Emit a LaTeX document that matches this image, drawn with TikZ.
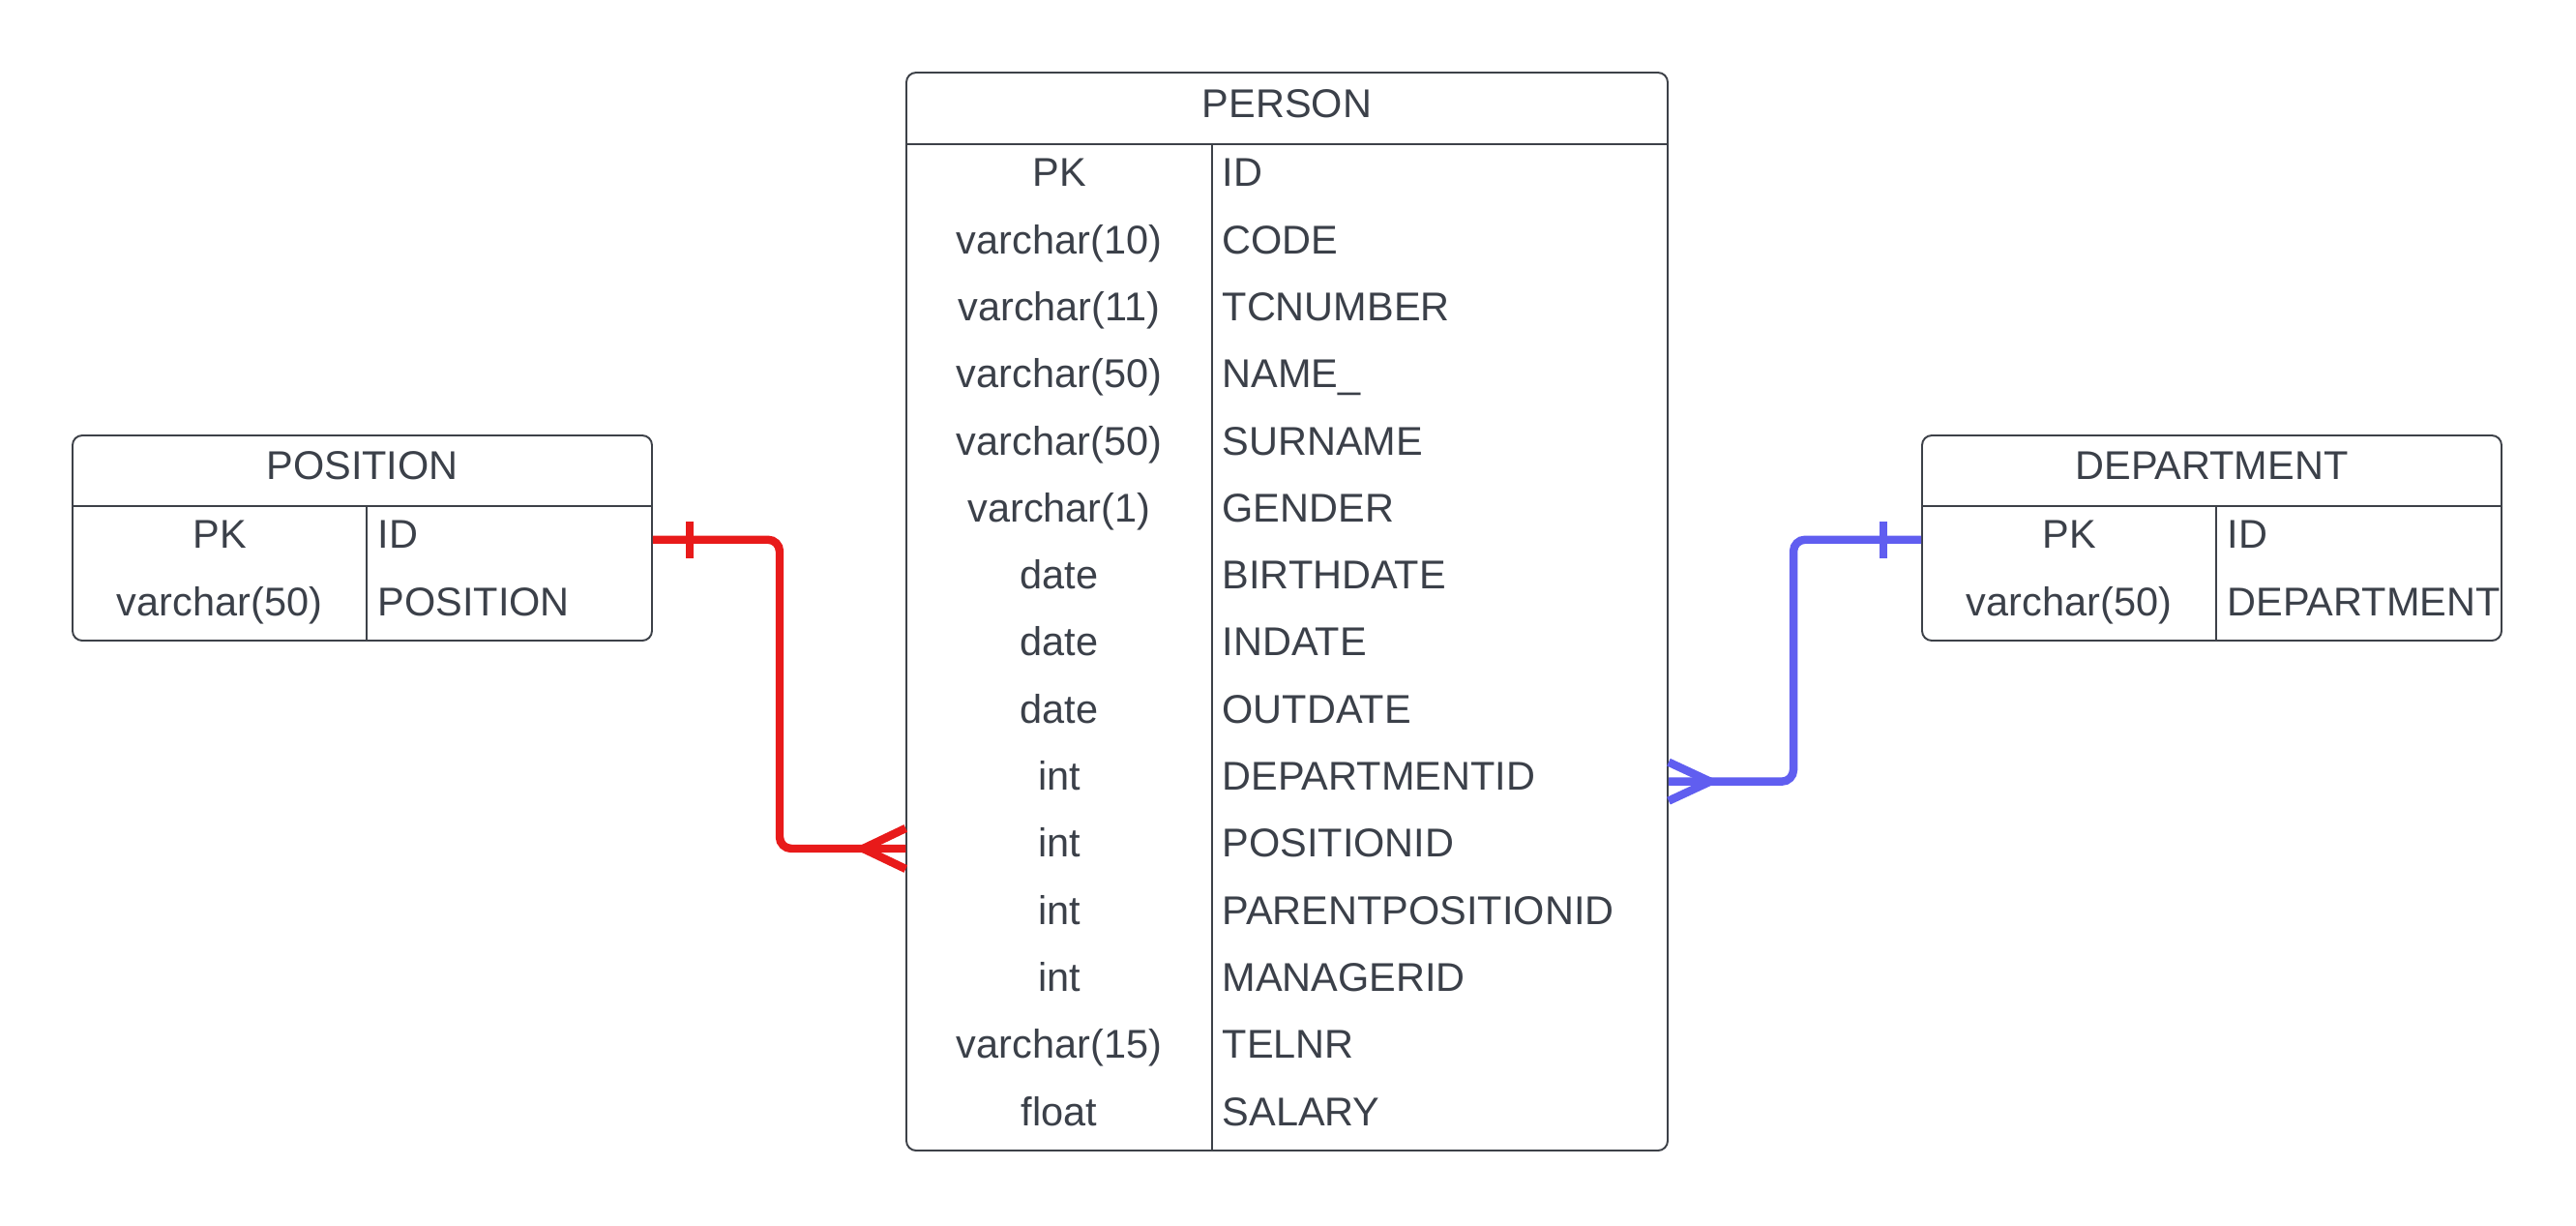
\documentclass[tikz,border=0pt]{standalone}
\usepackage{fontspec}
\setmainfont{Liberation Sans}
\definecolor{ink}{HTML}{3B4049}
\definecolor{frame}{HTML}{3D4148}
\definecolor{relred}{HTML}{E81A1A}
\definecolor{relblue}{HTML}{605EF0}
\tikzset{
  tablebox/.style={draw=frame, line width=0.55pt, rounded corners=0.1cm, inner sep=0pt},
  rowline/.style={draw=frame, line width=0.4pt},
  cell/.style={inner sep=0pt, font=\fontsize{11.8}{14}\selectfont, text=ink, text height=2.9mm, text depth=1.1mm},
  rel/.style={line width=2.4pt, rounded corners=0.12cm},
}
\begin{document}
\begin{tikzpicture}
  \useasboundingbox (0,0) rectangle (26.63,-12.66);

  \node[tablebox, minimum width=7.87cm, minimum height=11.14cm] (person) at (13.305,-6.32) {};
  \node[cell] (person-title) at (13.305,-1.12) {PERSON};
  \draw[rowline] (9.37,-1.49) -- (17.24,-1.49);
  \draw[rowline] (12.53,-1.49) -- (12.53,-11.89);
  \foreach \t/\n [count=\i] in {PK/ID, varchar(10)/CODE, varchar(11)/TCNUMBER, varchar(50)/NAME\_,
      varchar(50)/SURNAME, varchar(1)/GENDER, date/BIRTHDATE, date/INDATE, date/OUTDATE,
      int/DEPARTMENTID, int/POSITIONID, int/PARENTPOSITIONID, int/MANAGERID,
      varchar(15)/TELNR, float/SALARY}{
    \node[cell, minimum width=3.16cm, minimum height=0.6933cm] (person-t\i) at (10.95,{-1.49-0.6933*(\i-0.5)}) {\t};
    \node[cell, anchor=west] (person-n\i) at (12.63,{-1.49-0.6933*(\i-0.5)}) {\n};
  }

  \node[tablebox, minimum width=5.99cm, minimum height=2.12cm] (position) at (3.745,-5.56) {};
  \node[cell] (position-title) at (3.745,-4.865) {POSITION};
  \draw[rowline] (0.75,-5.23) -- (6.74,-5.23);
  \draw[rowline] (3.79,-5.23) -- (3.79,-6.62);
  \foreach \t/\n [count=\i] in {PK/ID, varchar(50)/POSITION}{
    \node[cell, minimum width=3.04cm, minimum height=0.695cm] (position-t\i) at (2.27,{-5.23-0.695*(\i-0.5)}) {\t};
    \node[cell, anchor=west] (position-n\i) at (3.90,{-5.23-0.695*(\i-0.5)}) {\n};
  }

  \node[tablebox, minimum width=5.99cm, minimum height=2.12cm] (department) at (22.865,-5.56) {};
  \node[cell] (department-title) at (22.865,-4.865) {DEPARTMENT};
  \draw[rowline] (19.87,-5.23) -- (25.86,-5.23);
  \draw[rowline] (22.91,-5.23) -- (22.91,-6.62);
  \foreach \t/\n [count=\i] in {PK/ID, varchar(50)/DEPARTMENT}{
    \node[cell, minimum width=3.04cm, minimum height=0.695cm] (department-t\i) at (21.39,{-5.23-0.695*(\i-0.5)}) {\t};
    \node[cell, anchor=west] (department-n\i) at (23.02,{-5.23-0.695*(\i-0.5)}) {\n};
  }

  \coordinate (pos-end) at (position.east |- position-t1);
  \coordinate (per-pos) at (person-t11.west);
  \coordinate (per-dep) at (person.east |- person-n10);
  \coordinate (dep-end) at (department.west |- department-t1);

  \draw[rel, relred] (pos-end) -- ++(1.31,0) |- (per-pos);
  \draw[rel, relred] ([xshift=0.38cm]pos-end) ++(0,0.19) -- ++(0,-0.38);
  \draw[rel, relred] ([xshift=-0.44cm]per-pos) -- ++(0.44,0.21) ([xshift=-0.44cm]per-pos) -- ++(0.44,-0.21);

  \draw[rel, relblue] (dep-end) -- ++(-1.32,0) |- (per-dep);
  \draw[rel, relblue] ([xshift=-0.39cm]dep-end) ++(0,0.19) -- ++(0,-0.38);
  \draw[rel, relblue] ([xshift=0.43cm]per-dep) -- ++(-0.43,0.2) ([xshift=0.43cm]per-dep) -- ++(-0.43,-0.2);
\end{tikzpicture}
\end{document}
